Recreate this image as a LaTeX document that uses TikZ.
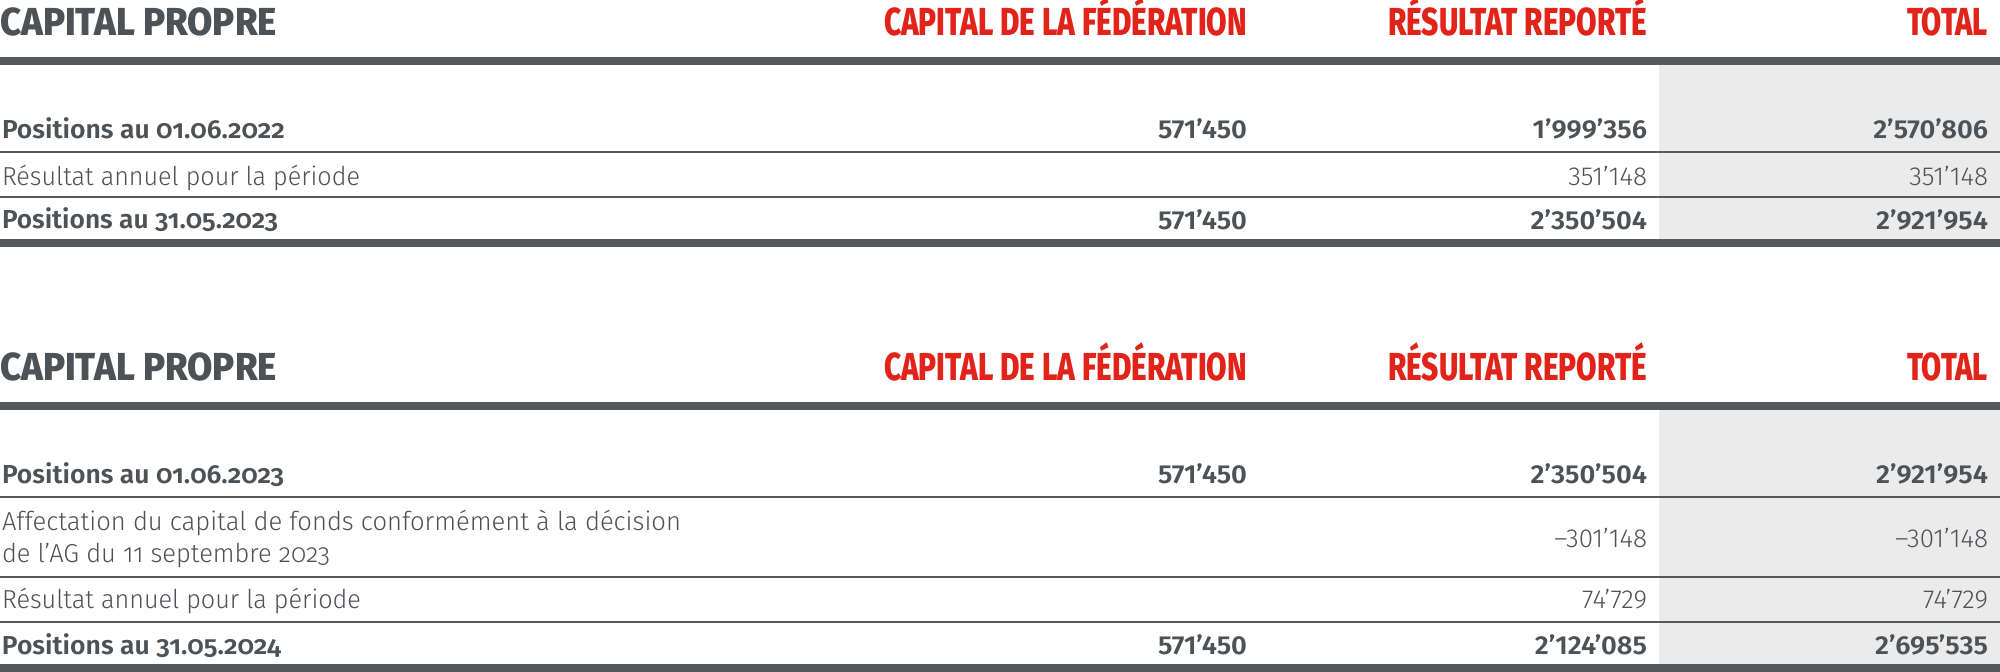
\documentclass[tikz,border=0pt]{standalone}
\usepackage{fontspec}
\setmainfont{Fira Sans}[UprightFont={* Light}, BoldFont={* SemiBold}, Numbers=OldStyle]
\newfontfamily\numf{Fira Sans}[UprightFont={* Light}, BoldFont={* SemiBold}, Numbers=Lining]
\newfontfamily\numbf{Fira Sans}[UprightFont={* SemiBold}, Numbers=Lining, FakeStretch=1.05]
\newfontfamily\headf{Fira Sans}[UprightFont={* ExtraBold}]
\definecolor{txt}{HTML}{4D5257}
\definecolor{rulec}{HTML}{55595C}
\definecolor{redc}{HTML}{E2231A}
\definecolor{greyf}{HTML}{EBEBEB}
\newlength\hfitlen
\newcommand\hfit[2]{\settowidth\hfitlen{#2}\pgfmathsetmacro\hfitfac{#1/\hfitlen}\scalebox{\hfitfac}[1]{#2}}
\begin{document}
\begin{tikzpicture}[x=1pt,y=-1pt,
  hdr/.style={font=\headf\fontsize{39}{40}\selectfont, inner sep=0, outer sep=0, anchor=base east, text=redc},
  hdrl/.style={hdr, anchor=base west, text=txt},
  lbl/.style={font=\fontsize{26}{30}\selectfont, text=txt, inner sep=0, outer sep=0, anchor=base west},
  lblb/.style={lbl, font=\bfseries\fontsize{26}{30}\selectfont},
  num/.style={font=\numf\fontsize{26}{30}\selectfont, text=txt, inner sep=0, outer sep=0, anchor=base east},
  numb/.style={num, font=\numbf\fontsize{26}{30}\selectfont},
  thickrule/.style={fill=rulec},
  thinrule/.style={fill=rulec},
  shade/.style={fill=greyf}]
\useasboundingbox (0,0) rectangle (2000,672);
% ---------- table 1 ----------
\fill[shade] (1659,65) rectangle (2000,239);
\fill[thickrule] (0,57) rectangle (2000,65);
\fill[thinrule] (0,151) rectangle (2000,153);
\fill[thinrule] (0,196) rectangle (2000,198);
\fill[thickrule] (0,239) rectangle (2000,247);
\node[hdrl] (h1a) at (0,35) {\hfit{277}{CAPITAL PROPRE}};
\node[hdr] (h1b) at (1247,35) {\hfit{363}{CAPITAL DE LA FÉDÉRATION}};
\node[hdr] (h1c) at (1647,35) {\hfit{259}{RÉSULTAT REPORTÉ}};
\node[hdr] (h1d) at (1988,35) {\hfit{81}{TOTAL}};
\node[lblb] (l11) at (2,138) {\hfit{283}{Positions au 01.06.2022}};
\node[numb] (n11a) at (1247,138) {571’450};
\node[numb] (n11b) at (1647,138) {1’999’356};
\node[numb] (n11c) at (1988,138) {2’570’806};
\node[lbl] (l12) at (2,185) {\hfit{358}{Résultat annuel pour la période}};
\node[num] (n12b) at (1647,185) {351’148};
\node[num] (n12c) at (1988,185) {351’148};
\node[lblb] (l13) at (2,228) {\hfit{276}{Positions au 31.05.2023}};
\node[numb] (n13a) at (1247,229) {571’450};
\node[numb] (n13b) at (1647,229) {2’350’504};
\node[numb] (n13c) at (1988,229) {2’921’954};
% ---------- table 2 ----------
\fill[shade] (1659,410) rectangle (2000,664);
\fill[thickrule] (0,402) rectangle (2000,410);
\fill[thinrule] (0,496) rectangle (2000,498);
\fill[thinrule] (0,576) rectangle (2000,578);
\fill[thinrule] (0,621) rectangle (2000,623);
\fill[thickrule] (0,664) rectangle (2000,672);
\node[hdrl] (h2a) at (0,380) {\hfit{277}{CAPITAL PROPRE}};
\node[hdr] (h2b) at (1247,380) {\hfit{363}{CAPITAL DE LA FÉDÉRATION}};
\node[hdr] (h2c) at (1647,380) {\hfit{259}{RÉSULTAT REPORTÉ}};
\node[hdr] (h2d) at (1988,380) {\hfit{81}{TOTAL}};
\node[lblb] (l21) at (2,483) {\hfit{282}{Positions au 01.06.2023}};
\node[numb] (n21a) at (1247,483) {571’450};
\node[numb] (n21b) at (1647,483) {2’350’504};
\node[numb] (n21c) at (1988,483) {2’921’954};
\node[lbl] (l22a) at (2,530) {\hfit{679}{Affectation du capital de fonds conformément à la décision}};
\node[lbl] (l22b) at (2,562) {\hfit{328}{de l’AG du 11 septembre 2023}};
\node[num] (n22b) at (1647,547) {–301’148};
\node[num] (n22c) at (1988,547) {–301’148};
\node[lbl] (l23) at (2,608) {\hfit{359}{Résultat annuel pour la période}};
\node[num] (n23b) at (1647,608) {74’729};
\node[num] (n23c) at (1988,608) {74’729};
\node[lblb] (l24) at (2,654) {\hfit{279}{Positions au 31.05.2024}};
\node[numb] (n24a) at (1247,654) {571’450};
\node[numb] (n24b) at (1647,654) {2’124’085};
\node[numb] (n24c) at (1988,654) {2’695’535};
\end{tikzpicture}
\end{document}
